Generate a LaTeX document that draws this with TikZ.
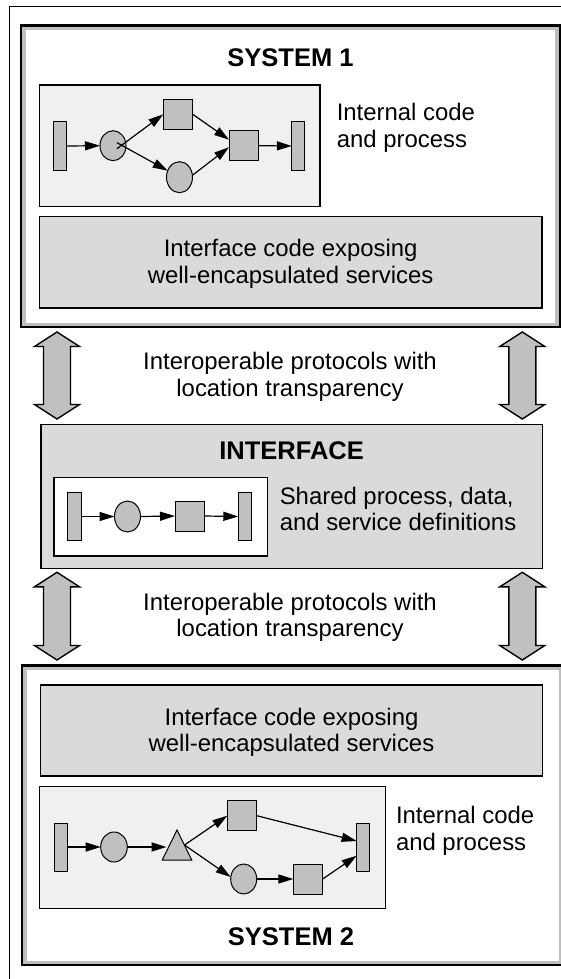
\documentclass[tikz,border=0pt]{standalone}
\usepackage{fontspec}
\setmainfont{Liberation Sans}
\usetikzlibrary{arrows.meta,shapes.geometric}
\definecolor{shapefill}{RGB}{192,192,192}
\definecolor{panelfill}{RGB}{240,240,240}
\definecolor{codefill}{RGB}{218,218,218}
\definecolor{bevel}{RGB}{190,190,190}

% vertical two-headed link arrow: centre x, top tip y, bottom tip y
\newcommand\linkarrow[3]{%
  \draw[linkarrow] (#1,#2) -- (#1+22.5,#2+14.5) -- (#1+13.5,#2+14.5)
    -- (#1+13.5,#3-14.5) -- (#1+22.5,#3-14.5) -- (#1,#3)
    -- (#1-22.5,#3-14.5) -- (#1-13.5,#3-14.5) -- (#1-13.5,#2+14.5)
    -- (#1-22.5,#2+14.5) -- cycle;}

\begin{document}
\begin{tikzpicture}[x=1pt,y=-1pt,
  every node/.style={inner sep=0pt, outer sep=0pt},
  sysbox/.style={draw, line width=2.3pt, fill=white},
  bevelband/.style={draw=bevel, line width=3.3pt},
  panel/.style={draw, line width=1.3pt, fill=panelfill},
  codebox/.style={draw, line width=1.3pt, fill=codefill},
  whitepanel/.style={draw, line width=1.3pt, fill=white},
  bar/.style={draw, fill=shapefill, line width=1pt, minimum width=13pt, minimum height=48pt},
  place/.style={draw, fill=shapefill, ellipse, line width=1pt, minimum width=26pt, minimum height=30pt},
  task/.style={draw, fill=shapefill, line width=1pt, minimum width=29.4pt, minimum height=30pt},
  flow/.style={-{Triangle[length=15pt,width=9pt]}, line width=1.2pt},
  linkarrow/.style={draw, fill=shapefill, line width=1.4pt, line join=miter},
  body/.style={font=\fontsize{23.9}{26}\selectfont, anchor=base},
  bodyleft/.style={font=\fontsize{23.9}{26}\selectfont, anchor=base west},
  title/.style={font=\bfseries\fontsize{25.5}{28}\selectfont, anchor=base}]

\useasboundingbox (0,0) rectangle (561,979);
\fill[white] (0,0) rectangle (561,979);

% outer frame
\draw[line width=1.3pt] (9.3,979) -- (9.3,6.3) -- (561,6.3);

% ---------------- System 1 ----------------
\node[sysbox, minimum width=538.6pt, minimum height=301.7pt] (sys1) at (290.5,176.35) {};
\draw[bevelband] ([shift={(2.8pt,-2.8pt)}]sys1.north west) rectangle ([shift={(-2.8pt,2.8pt)}]sys1.south east);
\node[title] (sys1title) at (290.5,66.7) {SYSTEM 1};

\node[panel, minimum width=280.6pt, minimum height=121.2pt] (proc1) at (179.7,145.6) {};
\node[bodyleft] (proc1a) at (336.8,120.7) {Internal code};
\node[bodyleft] (proc1b) at (336.8,147.3) {and process};

\node[bar]   (b1) at (59.7,146) {};
\node[place] (c1) at (113,145.7) {};
\node[task]  (s1) at (178,114.3) {};
\node[place, minimum height=31pt] (c2) at (179.5,177.2) {};
\node[task]  (s2) at (243.7,145.7) {};
\node[bar]   (b2) at (298.3,146) {};

\draw[flow] (b1.east) -- (c1.west);
\draw[flow] ([xshift=4pt,yshift=-3pt]c1.center) -- (s1.west);
\draw[flow] ([xshift=4pt,yshift=3pt]c1.center) -- (c2);
\draw[flow] (s1.east) -- ([yshift=6pt]s2.west);
\draw[flow] ([yshift=2pt]c2.east) -- ([yshift=-1.5pt]s2.west);
\draw[flow] (s2.east) -- (b2.west);

\node[codebox, minimum width=502.6pt, minimum height=91.3pt] (code1) at (290.7,262.35) {};
\node[body] (code1a) at (290.7,256.7) {Interface code exposing};
\node[body] (code1b) at (290.7,283.3) {well-encapsulated services};

% ---------------- upper links ----------------
\linkarrow{57}{332}{419}
\linkarrow{522.3}{332}{419}
\node[body] (link1a) at (290,369.3) {Interoperable protocols with};
\node[body] (link1b) at (290,396) {location transparency};

% ---------------- Interface ----------------
\node[codebox, minimum width=501.6pt, minimum height=144pt] (iface) at (291.9,496.3) {};
\node[title] (ifacetitle) at (291.6,459.3) {INTERFACE};
\node[whitepanel, minimum width=213.6pt, minimum height=78.5pt] (shared) at (160.8,516.75) {};
\node[bodyleft] (shareda) at (279.8,504) {Shared process, data,};
\node[bodyleft] (sharedb) at (279.8,530.7) {and service definitions};

\node[bar, minimum width=13.7pt] (b3) at (74.2,516.5) {};
\node[place, minimum height=31pt] (c3) at (127.5,516.5) {};
\node[task] (s3) at (189.7,516) {};
\node[bar] (b4) at (244.8,516.5) {};
\draw[flow] (b3.east) -- (c3.west);
\draw[flow] (c3.east) -- (s3.west);
\draw[flow] (s3.east) -- (b4.west);

% ---------------- lower links ----------------
\linkarrow{57}{572.3}{660}
\linkarrow{522.3}{572.3}{660}
\node[body] (link2a) at (290,610) {Interoperable protocols with};
\node[body] (link2b) at (290,636.7) {location transparency};

% ---------------- System 2 ----------------
\node[sysbox, minimum width=541.2pt, minimum height=299.8pt] (sys2) at (292.9,815.4) {};
\draw[bevelband] ([shift={(2.8pt,-2.8pt)}]sys2.north west) rectangle ([shift={(-2.8pt,2.8pt)}]sys2.south east);

\node[codebox, minimum width=502.3pt, minimum height=91pt] (code2) at (291.55,730.5) {};
\node[body] (code2a) at (291.5,725) {Interface code exposing};
\node[body] (code2b) at (291.5,751.6) {well-encapsulated services};

\node[panel, minimum width=345.9pt, minimum height=121.6pt] (proc2) at (212.35,847.5) {};
\node[bodyleft] (proc2a) at (396,823.5) {Internal code};
\node[bodyleft] (proc2b) at (396,850.2) {and process};

\node[bar, minimum width=13.3pt] (b5) at (60.7,847) {};
\node[place, minimum width=26.6pt] (c5) at (114,847) {};
\draw[fill=shapefill, line width=1pt, line join=miter] (177,830) -- (191.7,860) -- (162.3,860) -- cycle;
\coordinate (trin) at (166.5,847);
\coordinate (trout) at (184.5,845);
\node[task] (s6) at (242,815.7) {};
\node[place] (c6) at (243.7,879) {};
\node[task] (s7) at (308,879) {};
\node[bar, minimum width=13.3pt] (b6) at (363.3,847) {};

\draw[flow] (b5.east) -- (c5.west);
\draw[flow] (c5.east) -- (trin);
\draw[flow] (trout) -- (s6.west);
\draw[flow] (trout) -- ([yshift=2pt]c6.west);
\draw[flow] (c6.east) -- (s7.west);
\draw[flow] (s6.east) -- ([yshift=6pt]b6.west);
\draw[flow] (s7.east) -- ([yshift=-8.7pt]b6.west);

\node[title] (sys2title) at (291,945) {SYSTEM 2};

\end{tikzpicture}
\end{document}
